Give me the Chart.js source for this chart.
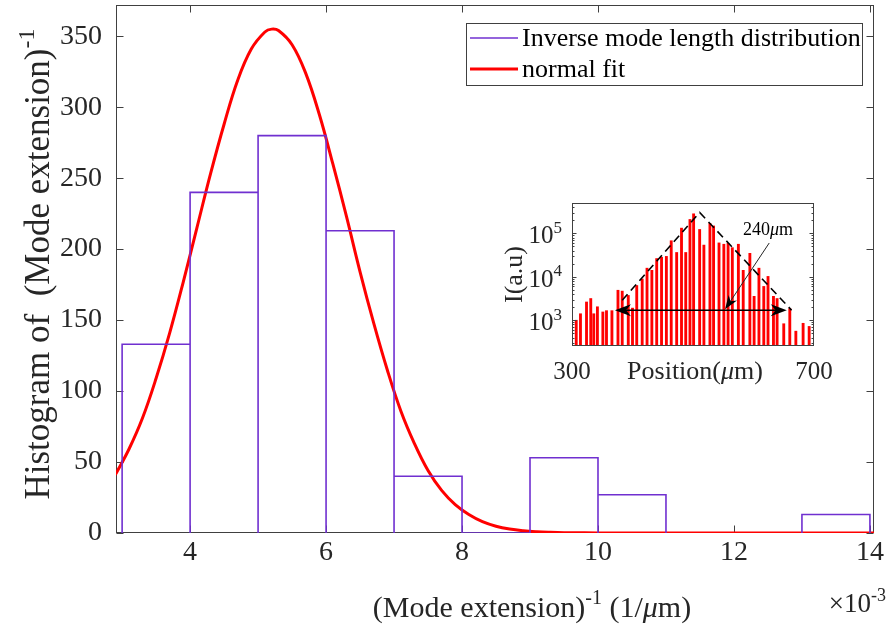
<!DOCTYPE html>
<html>
<head>
<meta charset="utf-8">
<script src="https://cdn.jsdelivr.net/npm/chart.js@4.4.1/dist/chart.umd.min.js"></script>
<style>
html, body { margin: 0; padding: 0; background: #fff; }
#wrap { position: relative; width: 889px; height: 635px; }
#main { position: absolute; left: 0; top: 0; }
#inset { position: absolute; left: 490px; top: 185px; }
</style>
</head>
<body>
<div id="wrap">
  <canvas id="main" width="889" height="635"></canvas>
  <canvas id="inset" width="360" height="210"></canvas>
</div>
<script>
// histogram of inverse mode length (x in units of 1e-3 1/um)
const binEdges = [3, 4, 5, 6, 7, 8, 9, 10, 11, 12, 13, 14];
const binCounts = [133, 240, 280, 213, 40, 0, 53, 27, null, null, 13];

// normal fit
const fitX = [2.9, 3.1, 3.3, 3.5, 3.7, 3.9, 4.1, 4.3, 4.5, 4.7, 4.9, 5.1, 5.2, 5.3, 5.5, 5.7, 5.9, 6.1, 6.3, 6.5, 6.7,
              6.9, 7.1, 7.3, 7.5, 7.7, 7.9, 8.1, 8.3, 8.5, 8.7, 8.9, 9.1, 9.3, 9.5, 9.8, 10.2, 11, 12, 13, 14.1];
const fitY = [41, 59, 81, 109, 141, 177, 215, 253, 288, 319, 341, 353, 355, 354, 344, 324, 295, 260, 223, 184, 148,
              115, 86, 63, 44, 30, 20, 13, 8, 4.8, 2.8, 1.6, 0.9, 0.5, 0.25, 0.1, 0.03, 0, 0, 0, 0];

const xTicks = [4, 6, 8, 10, 12, 14];
const yTicks = [0, 50, 100, 150, 200, 250, 300, 350];

// inset: intensity vs position (log scale)
const insetPos = [307, 314, 324, 331, 336, 342, 351, 357, 366, 376, 383, 393, 400, 407, 416, 424, 432, 440, 448, 456,
                  464, 473, 481, 488, 495, 501, 511, 518, 528, 534, 543, 551, 558, 565, 575, 583, 594, 601, 609, 617,
                  624, 633, 639, 650, 660, 670, 682, 692];
const insetI = [1000, 1410, 2630, 3160, 1410, 2040, 1550, 1660, 1660, 4900, 4680, 3720, 1900, 6300, 8900, 15800, 14100, 26300, 28200, 29500,
                67600, 36300, 132000, 36300, 209000, 282000, 123000, 53700, 170000, 148000, 60300, 56200, 58900, 46800, 56200, 14100, 34700, 3550, 15800, 6000,
                10200, 3550, 3160, 830, 1860, 560, 850, 720];
const insetXTicks = [300, 700];
const insetYTicks = [1000, 10000, 100000];

// dashed envelope and arrows in inset data coordinates
const envX = [383, 511, 663];
const envY = [2880, 302000, 1700];
const spanX = [371, 655];
const spanY = 1700;
const noteX = [626, 553];
const noteY = [60000, 1780];
const noteText = { x: 624, y: 123000 };

const SERIF = '"Liberation Serif", "Times New Roman", serif';
const INK = '#262626';
const PURPLE = '#7030d0';

// draws text made of plain / superscript / italic parts
function drawRich(ctx, parts, x, y, size, align) {
  const fontOf = p => (p.it ? 'italic ' : '') + (p.sup ? Math.round(size * 0.68) : size) + 'px ' + SERIF;
  let w = 0;
  parts.forEach(p => { ctx.font = fontOf(p); p.w = ctx.measureText(p.t).width; w += p.w; });
  let cx = align === 'center' ? x - w / 2 : (align === 'right' ? x - w : x);
  ctx.textAlign = 'left';
  ctx.textBaseline = 'alphabetic';
  parts.forEach(p => {
    ctx.font = fontOf(p);
    ctx.fillText(p.t, cx, p.sup ? y - size * 0.42 : y);
    cx += p.w;
  });
}

function arrowHead(ctx, x0, y0, x1, y1, len, half) {
  const a = Math.atan2(y1 - y0, x1 - x0);
  const c = Math.cos(a), s = Math.sin(a);
  ctx.beginPath();
  ctx.moveTo(x1, y1);
  ctx.lineTo(x1 - len * c + half * s, y1 - len * s - half * c);
  ctx.lineTo(x1 - len * 0.7 * c, y1 - len * 0.7 * s);
  ctx.lineTo(x1 - len * c - half * s, y1 - len * s + half * c);
  ctx.closePath();
  ctx.fill();
}

// keep the plot box where the layout padding puts it
function noEdgePadding(s) {
  s.paddingTop = 0; s.paddingBottom = 0; s.paddingLeft = 0; s.paddingRight = 0;
}

// histogram outline as a step path built from the bins
const stepPts = [];
binCounts.forEach((c, i) => {
  const a = binEdges[i], b = binEdges[i + 1];
  if (c === null) { stepPts.push({ x: a, y: null }); return; }
  stepPts.push({ x: a, y: 0 }, { x: a, y: c }, { x: b, y: c }, { x: b, y: 0 });
});

const mainFrame = {
  id: 'mainFrame',
  beforeDatasetsDraw(chart) {
    const { ctx, chartArea: a, scales: { x, y } } = chart;
    ctx.save();
    ctx.strokeStyle = '#404040';
    ctx.lineWidth = 1;
    const L = Math.round(a.left) + 0.5, R = Math.round(a.right) - 0.5;
    const T = Math.round(a.top) + 0.5, B = Math.round(a.bottom) - 0.5;
    ctx.strokeRect(L, T, R - L, B - T);
    ctx.beginPath();
    xTicks.forEach(v => {
      const px = Math.round(x.getPixelForValue(v)) + 0.5;
      ctx.moveTo(px, B); ctx.lineTo(px, B - 7);
      ctx.moveTo(px, T); ctx.lineTo(px, T + 7);
    });
    yTicks.forEach(v => {
      const py = Math.round(y.getPixelForValue(v)) + 0.5;
      ctx.moveTo(L, py); ctx.lineTo(L + 7, py);
      ctx.moveTo(R, py); ctx.lineTo(R - 7, py);
    });
    ctx.stroke();
    ctx.restore();
  },
  afterDraw(chart) {
    const { ctx, chartArea: a } = chart;
    ctx.save();
    ctx.fillStyle = INK;
    // x label
    drawRich(ctx, [{ t: '(Mode extension)' }, { t: '-1', sup: true }, { t: ' (1/' }, { t: 'μ', it: true }, { t: 'm)' }],
      532, 617, 30, 'center');
    drawRich(ctx, [{ t: '×10' }, { t: '-3', sup: true }], 886, 612, 27, 'right');
    // y label
    ctx.translate(49, 264);
    ctx.rotate(-Math.PI / 2);
    drawRich(ctx, [{ t: 'Histogram of  (Mode extension)' }, { t: '-1', sup: true }], 0, 0, 35, 'center');
    ctx.restore();

    // legend
    ctx.save();
    ctx.fillStyle = '#fff';
    ctx.fillRect(466, 23, 397, 63);
    ctx.strokeStyle = '#404040';
    ctx.lineWidth = 1;
    ctx.strokeRect(466.5, 23.5, 396, 62);
    const rows = [38, 69];
    chart.data.datasets.forEach((ds, i) => {
      ctx.strokeStyle = ds.borderColor;
      ctx.lineWidth = ds.borderWidth;
      ctx.beginPath();
      ctx.moveTo(470, rows[i]); ctx.lineTo(518, rows[i]);
      ctx.stroke();
      ctx.fillStyle = '#000';
      ctx.font = '26px ' + SERIF;
      ctx.textAlign = 'left';
      ctx.textBaseline = 'middle';
      ctx.fillText(ds.label, 522, rows[i] + 1);
    });
    ctx.restore();
  }
};

new Chart(document.getElementById('main'), {
  type: 'line',
  data: {
    datasets: [{
      label: 'Inverse mode length distribution',
      data: stepPts,
      borderColor: PURPLE,
      borderWidth: 1.6,
      pointRadius: 0,
      tension: 0,
      spanGaps: false
    }, {
      label: 'normal fit',
      data: fitX.map((v, i) => ({ x: v, y: fitY[i] })),
      borderColor: '#ff0000',
      borderWidth: 3,
      pointRadius: 0,
      tension: 0.4
    }]
  },
  options: {
    responsive: false,
    animation: false,
    layout: { padding: { left: 0, top: 5, right: 15, bottom: 0 } },
    plugins: { legend: { display: false }, tooltip: { enabled: false } },
    scales: {
      x: {
        type: 'linear', min: 2.91, max: 14.06,
        afterBuildTicks: s => { s.ticks = xTicks.map(v => ({ value: v })); },
        afterFit: s => { s.height = 102; noEdgePadding(s); },
        grid: { display: false, drawTicks: false },
        border: { display: false },
        ticks: { color: INK, font: { family: SERIF, size: 28 }, padding: 3, maxRotation: 0, autoSkip: false }
      },
      y: {
        type: 'linear', min: 0, max: 372,
        afterBuildTicks: s => { s.ticks = yTicks.map(v => ({ value: v })); },
        afterFit: s => { s.width = 116; noEdgePadding(s); },
        grid: { display: false, drawTicks: false },
        border: { display: false },
        ticks: { color: INK, font: { family: SERIF, size: 28 }, padding: 14, autoSkip: false }
      }
    }
  },
  plugins: [mainFrame]
});

const insetDecor = {
  id: 'insetDecor',
  beforeDatasetsDraw(chart) {
    const { ctx, chartArea: a } = chart;
    ctx.save();
    ctx.fillStyle = '#fff';
    ctx.fillRect(a.left, a.top, a.width, a.height);
    ctx.restore();
  },
  afterDraw(chart) {
    const { ctx, chartArea: a, scales: { x, y } } = chart;
    ctx.save();
    ctx.strokeStyle = '#404040';
    ctx.lineWidth = 1;
    const L = Math.round(a.left) + 0.5, R = Math.round(a.right) - 0.5;
    const T = Math.round(a.top) + 0.5, B = Math.round(a.bottom) - 0.5;
    ctx.strokeRect(L, T, R - L, B - T);
    // log ticks, major and minor
    ctx.beginPath();
    for (let d = 100; d <= 1e6; d *= 10) {
      for (let k = 1; k < 10; k++) {
        const v = d * k;
        if (v < y.min || v > y.max) continue;
        const py = Math.round(y.getPixelForValue(v)) + 0.5;
        const len = k === 1 ? 4 : 2;
        ctx.moveTo(L, py); ctx.lineTo(L + len, py);
        ctx.moveTo(R, py); ctx.lineTo(R - len, py);
      }
    }
    ctx.stroke();

    ctx.fillStyle = INK;
    insetYTicks.forEach(v => {
      const py = y.getPixelForValue(v);
      drawRich(ctx, [{ t: '10' }, { t: String(Math.round(Math.log10(v))), sup: true }], a.left - 10, py + 10, 25, 'right');
    });
    insetXTicks.forEach(v => {
      drawRich(ctx, [{ t: String(v) }], x.getPixelForValue(v), 194, 25, 'center');
    });
    drawRich(ctx, [{ t: 'Position(' }, { t: 'μ', it: true }, { t: 'm)' }], (a.left + a.right) / 2 + 2, 194, 26, 'center');
    ctx.save();
    ctx.translate(32, (a.top + a.bottom) / 2);
    ctx.rotate(-Math.PI / 2);
    drawRich(ctx, [{ t: 'I(a.u)' }], 0, 0, 26, 'center');
    ctx.restore();

    // dashed envelope
    ctx.strokeStyle = '#000';
    ctx.lineWidth = 1.6;
    ctx.setLineDash([8, 5]);
    ctx.beginPath();
    envX.forEach((v, i) => {
      const px = x.getPixelForValue(v), py = y.getPixelForValue(envY[i]);
      if (i === 0) ctx.moveTo(px, py); else ctx.lineTo(px, py);
    });
    ctx.stroke();
    ctx.setLineDash([]);

    // double arrow for the width
    const sy = y.getPixelForValue(spanY);
    const sx0 = x.getPixelForValue(spanX[0]), sx1 = x.getPixelForValue(spanX[1]);
    ctx.lineWidth = 1.5;
    ctx.beginPath();
    ctx.moveTo(sx0 + 8, sy); ctx.lineTo(sx1 - 8, sy);
    ctx.stroke();
    ctx.fillStyle = '#000';
    arrowHead(ctx, sx1, sy, sx0, sy, 16, 6);
    arrowHead(ctx, sx0, sy, sx1, sy, 16, 6);

    // annotation arrow
    const nx0 = x.getPixelForValue(noteX[0]), ny0 = y.getPixelForValue(noteY[0]);
    const nx1 = x.getPixelForValue(noteX[1]), ny1 = y.getPixelForValue(noteY[1]);
    ctx.lineWidth = 1;
    ctx.strokeStyle = '#262626';
    ctx.beginPath();
    ctx.moveTo(nx0, ny0); ctx.lineTo(nx1 + (nx0 - nx1) * 0.08, ny1 + (ny0 - ny1) * 0.08);
    ctx.stroke();
    arrowHead(ctx, nx0, ny0, nx1, ny1, 14, 5);

    ctx.fillStyle = '#000';
    drawRich(ctx, [{ t: '240' }, { t: 'μ', it: true }, { t: 'm' }],
      x.getPixelForValue(noteText.x), y.getPixelForValue(noteText.y) + 6, 18, 'center');
    ctx.restore();
  }
};

new Chart(document.getElementById('inset'), {
  type: 'bar',
  data: {
    datasets: [{
      data: insetPos.map((v, i) => ({ x: v, y: insetI[i] })),
      backgroundColor: '#ff0000',
      borderWidth: 0,
      barThickness: 2.2
    }]
  },
  options: {
    responsive: false,
    animation: false,
    layout: { padding: { left: 82, top: 18, right: 36, bottom: 49 } },
    plugins: { legend: { display: false }, tooltip: { enabled: false } },
    scales: {
      x: { type: 'linear', min: 300, max: 700, offset: false, display: false },
      y: { type: 'logarithmic', min: 255, max: 500000, display: false }
    }
  },
  plugins: [insetDecor]
});
</script>
</body>
</html>
